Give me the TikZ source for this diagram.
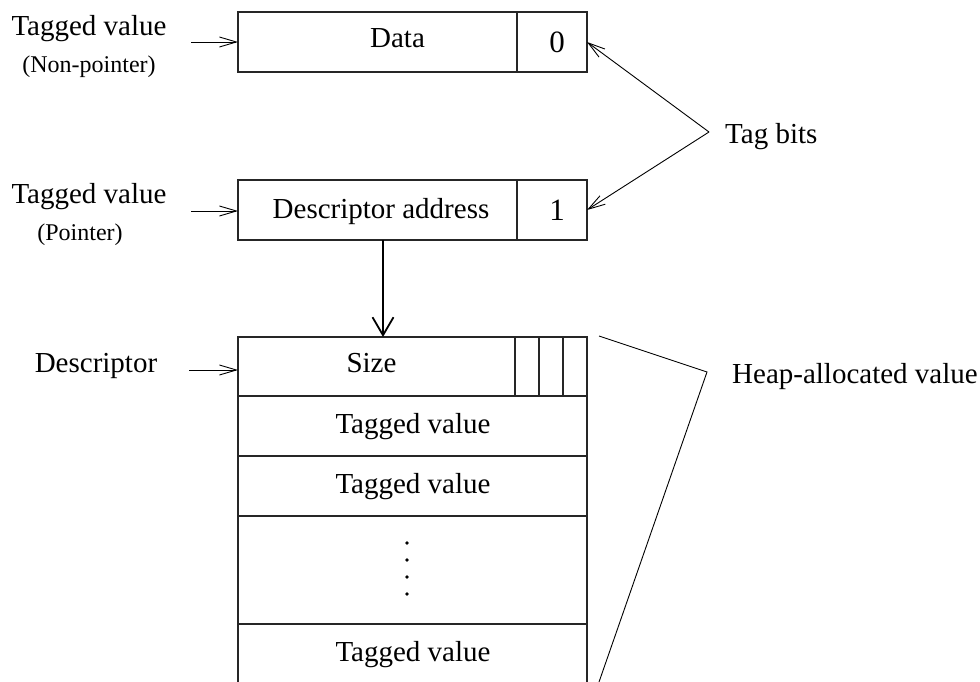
\documentclass[tikz,border=0pt]{standalone}
\usepackage{fontspec}
\setmainfont{Liberation Serif}
\usetikzlibrary{arrows.meta}
\begin{document}
\begin{tikzpicture}[x=1pt,y=-1pt,
  cell/.style={draw=black!85, line width=1.1pt, inner sep=0pt, outer sep=0pt},
  txt/.style={font=\fontsize{29}{34}\selectfont, inner sep=0pt, anchor=base},
  smalltxt/.style={font=\fontsize{24}{28}\selectfont, inner sep=0pt, anchor=base},
  digit/.style={font=\fontsize{31}{36}\selectfont, inner sep=0pt, anchor=base},
  thinarrow/.style={line width=0.9pt, -{Straight Barb[length=17pt,width=10pt]}},
  thickarrow/.style={line width=1.8pt, -{Straight Barb[length=18pt,width=21pt]}},
  plainline/.style={line width=0.9pt},
]
\useasboundingbox (0,0) rectangle (980,682);

% top box: data
\node[cell, minimum width=279pt, minimum height=60pt] (data) at (377.5,42) {};
\node[cell, minimum width=70pt, minimum height=60pt] (zero) at (552,42) {};
\node[txt] (datat) at (397.5,48) {Data};
\node[digit] (zerot) at (557,53) {0};

% pointer box
\node[cell, minimum width=279pt, minimum height=60pt] (ptr) at (377.5,210) {};
\node[cell, minimum width=70pt, minimum height=60pt] (one) at (552,210) {};
\node[txt] (ptrt) at (381,218) {Descriptor address};
\node[digit] (onet) at (557,220) {1};

% heap block
\node[cell, minimum width=349pt, minimum height=59pt] (size) at (412.5,366.5) {};
\node[cell, minimum width=24pt, minimum height=59pt] (f1) at (527,366.5) {};
\node[cell, minimum width=24pt, minimum height=59pt] (f2) at (551,366.5) {};
\node[cell, minimum width=24pt, minimum height=59pt] (f3) at (575,366.5) {};
\node[txt] (sizet) at (371.5,372) {Size};

\node[cell, minimum width=349pt, minimum height=60pt] (tv1) at (412.5,426) {};
\node[txt] (tv1t) at (413,433) {Tagged value};
\node[cell, minimum width=349pt, minimum height=60pt] (tv2) at (412.5,486) {};
\node[txt] (tv2t) at (413,493) {Tagged value};
\node[cell, minimum width=349pt, minimum height=108pt] (dots) at (412.5,570) {};
\foreach \yy in {543,560,577,594} \fill (407,\yy) circle (1.8pt);

\coordinate (l3a) at (238,624);
\coordinate (l3b) at (238,682);
\coordinate (r3a) at (587,624);
\coordinate (r3b) at (587,682);
\draw[draw=black!85, line width=1.1pt] (l3a) -- (l3b) (r3a) -- (r3b);
\node[txt] (tv3t) at (413,661) {Tagged value};

% left labels
\node[txt] (lab1) at (89,36) {Tagged value};
\node[smalltxt] (lab1s) at (89,73) {(Non-pointer)};
\node[txt] (lab2) at (89,204) {Tagged value};
\node[smalltxt] (lab2s) at (80,240) {(Pointer)};
\node[txt] (lab3) at (96,372) {Descriptor};

\coordinate (a1) at (191,42);
\coordinate (a2) at (191,211);
\coordinate (a3) at (189,370);
\draw[thinarrow] (a1) -- (data.west);
\draw[thinarrow] (a2) -- (a2 -| ptr.west);
\draw[thinarrow] (a3) -- (a3 -| size.west);

% pointer arrow
\coordinate (d1) at (383,240);
\coordinate (d2) at (383,337);
\draw[thickarrow] (d1) -- (d2);

% tag bits
\coordinate (apex) at (709,132);
\node[txt, anchor=base west] (tagbits) at (725,143) {Tag bits};
\draw[thinarrow] (apex) -- (zero.east);
\draw[thinarrow] (apex) -- (one.east);

% heap brace
\coordinate (b1) at (599,336);
\coordinate (b2) at (707,372);
\coordinate (b3) at (599,682);
\draw[plainline] (b1) -- (b2) -- (b3);
\node[txt, anchor=base west] (heapt) at (732,383) {Heap-allocated value};
\end{tikzpicture}
\end{document}
